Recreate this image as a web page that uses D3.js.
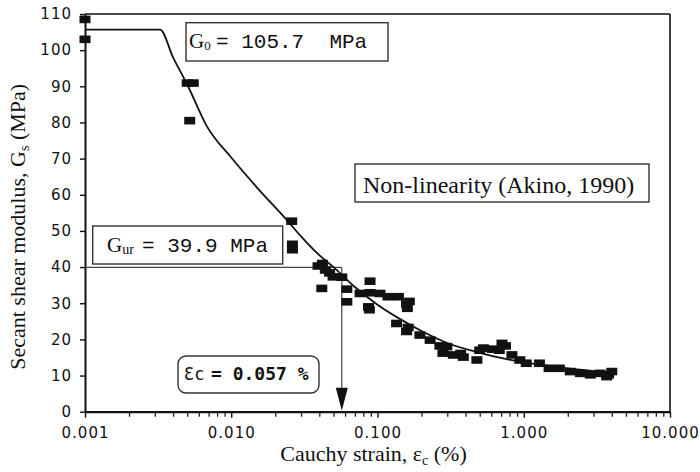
<!DOCTYPE html>
<html>
<head>
<meta charset="utf-8">
<script src="https://cdn.jsdelivr.net/npm/d3@7"></script>
<style>
  html, body { margin: 0; padding: 0; background: #fff; }
  svg { display: block; }
</style>
</head>
<body>
<svg id="chart" width="700" height="472"></svg>
<script>
// Measured secant shear modulus (strain in %, modulus in MPa)
const strain = [0.001, 0.001, 0.0050, 0.0055, 0.0052, 0.0259, 0.0262, 0.0262,
  0.0392, 0.0420, 0.0440, 0.0470, 0.0497, 0.0570, 0.0416, 0.0617, 0.0617,
  0.0889, 0.0760, 0.0890, 0.1040, 0.0868, 0.0880, 0.1180, 0.1390, 0.1580,
  0.1600, 0.1650, 0.1350, 0.1620, 0.1580, 0.1950, 0.2290, 0.2670, 0.2980,
  0.2800, 0.3300, 0.3700, 0.3860, 0.4780, 0.5000, 0.5300, 0.6100, 0.6800,
  0.7100, 0.7500, 0.8300, 0.9400, 1.0400, 1.2800, 1.4900, 1.7500, 2.0800,
  2.4400, 2.8500, 3.3300, 3.6900, 3.8000, 4.0000];
const modulus = [108.5, 103.0, 90.9, 90.9, 80.5, 52.7, 46.3, 44.8,
  40.3, 41.0, 39.2, 38.4, 37.3, 37.2, 34.1, 33.9, 30.4,
  36.1, 32.7, 32.9, 32.7, 29.0, 28.2, 31.8, 31.8, 29.8,
  28.6, 30.5, 24.4, 23.3, 22.2, 21.2, 19.8, 18.2, 18.0,
  16.2, 15.7, 16.1, 15.1, 14.3, 17.0, 17.6, 17.3, 17.0,
  18.9, 18.2, 15.7, 14.3, 13.4, 13.4, 12.0, 12.0, 11.1,
  10.6, 10.2, 10.6, 9.7, 10.2, 11.1];

// Non-linearity model curve (Akino, 1990)
const modelStrain = [0.001, 0.00326, 0.0040, 0.0050, 0.0068, 0.0100, 0.0150,
  0.0240, 0.0300, 0.0400, 0.0500, 0.0700, 0.1000, 0.1430, 0.2000, 0.3000,
  0.5000, 0.7500, 1.2000, 2.0000, 3.5000];
const modelModulus = [105.7, 105.7, 98.0, 90.5, 79.0, 70.3, 62.0,
  53.0, 48.5, 43.3, 40.0, 34.5, 29.6, 25.6, 22.3, 19.0,
  16.3, 14.6, 13.2, 12.0, 11.0];

// Reference values marked on the chart
const G0 = 105.7;
const Gur = 39.9;
const epsC = 0.057;

// Axis ticks
const xTickValues = [0.001, 0.01, 0.1, 1, 10];
const xTickLabels = ["0.001", "0.010", "0.100", "1.000", "10.000"];
const yTickValues = [0, 10, 20, 30, 40, 50, 60, 70, 80, 90, 100, 110];
const yTickLabels = ["0", "10", "20", "30", "40", "50", "60", "70", "80", "90", "100", "110"];

const svg = d3.select("#chart");
const plotLeft = 85, plotRight = 670, plotTop = 14, plotBottom = 411.7;

const x = d3.scaleLog().domain([0.001, 10]).range([plotLeft, plotRight]);
const y = d3.scaleLinear().domain([0, 110]).range([plotBottom, plotTop]);

const tickFont = "'DejaVu Sans', sans-serif";
const serif = "'Liberation Serif', 'Times New Roman', serif";
const mono = "'Liberation Mono', 'Courier New', monospace";

// Minor ticks on the log axis
const minorTicks = [];
for (let d = 0.001; d < 10; d *= 10) {
  for (let k = 2; k <= 9; k++) minorTicks.push(+(d * k).toPrecision(3));
}

// Frame (top and right)
svg.append("line").attr("x1", plotLeft).attr("x2", plotRight).attr("y1", plotTop).attr("y2", plotTop)
  .attr("stroke", "#111").attr("stroke-width", 1.6);
svg.append("line").attr("x1", plotRight).attr("x2", plotRight).attr("y1", plotTop).attr("y2", plotBottom)
  .attr("stroke", "#111").attr("stroke-width", 1.6);

// x axis
const gx = svg.append("g").attr("transform", `translate(0,${plotBottom})`);
gx.append("g").call(d3.axisBottom(x).tickValues(minorTicks).tickFormat("").tickSize(5).tickSizeOuter(0))
  .call(g => g.select(".domain").remove())
  .call(g => g.selectAll("line").attr("stroke", "#111").attr("stroke-width", 1.2));
gx.append("g").call(d3.axisBottom(x).tickValues(xTickValues)
    .tickFormat((d, i) => xTickLabels[i]).tickSize(6).tickSizeOuter(0).tickPadding(10))
  .call(g => g.select(".domain").attr("stroke", "#111").attr("stroke-width", 2.2))
  .call(g => g.selectAll("line").attr("stroke", "#111").attr("stroke-width", 1.4))
  .call(g => g.selectAll("text").attr("font-family", tickFont).attr("font-size", 15)
    .attr("letter-spacing", "1px").attr("fill", "#111"));

// y axis
svg.append("g").attr("transform", `translate(${plotLeft},0)`)
  .call(d3.axisLeft(y).tickValues(yTickValues).tickFormat((d, i) => yTickLabels[i])
    .tickSize(5).tickSizeOuter(0).tickPadding(8))
  .call(g => g.select(".domain").attr("stroke", "#111").attr("stroke-width", 2))
  .call(g => g.selectAll("line").attr("stroke", "#111").attr("stroke-width", 1.4))
  .call(g => g.selectAll("text").attr("font-family", tickFont).attr("font-size", 15)
    .attr("letter-spacing", "1px").attr("fill", "#111"));

// Axis titles
const xt = svg.append("text").attr("x", (plotLeft + plotRight) / 2 - 4).attr("y", 461)
  .attr("text-anchor", "middle").attr("font-family", serif).attr("font-size", 22).attr("fill", "#111");
xt.append("tspan").text("Cauchy strain, ε");
xt.append("tspan").attr("font-size", 14).attr("dy", 4).text("c");
xt.append("tspan").attr("dy", -4).text(" (%)");

const yt = svg.append("text").attr("transform", `translate(25,${(plotTop + plotBottom) / 2 + 14}) rotate(-90)`)
  .attr("text-anchor", "middle").attr("font-family", serif).attr("font-size", 22).attr("fill", "#111");
yt.append("tspan").text("Secant shear modulus, G");
yt.append("tspan").attr("font-size", 14).attr("dy", 4).text("s");
yt.append("tspan").attr("dy", -4).text(" (MPa)");

// Gur reference line and strain arrow
svg.append("line").attr("x1", plotLeft).attr("x2", x(epsC)).attr("y1", y(Gur)).attr("y2", y(Gur))
  .attr("stroke", "#444").attr("stroke-width", 1.2);
svg.append("line").attr("x1", x(epsC)).attr("x2", x(epsC)).attr("y1", y(Gur)).attr("y2", plotBottom - 12)
  .attr("stroke", "#444").attr("stroke-width", 1.2);
svg.append("path")
  .attr("d", `M${x(epsC) - 6},${plotBottom - 24} L${x(epsC) + 6},${plotBottom - 24} L${x(epsC)},${plotBottom - 1} Z`)
  .attr("fill", "#111");

// Data points
const pts = strain.map((s, i) => ({ s, g: modulus[i] }));
svg.append("g").selectAll("rect").data(pts).join("rect")
  .attr("x", d => x(d.s) - 5.5).attr("y", d => y(d.g) - 3.8)
  .attr("width", 11).attr("height", 7.6).attr("fill", "#111");

// Model curve
const model = modelStrain.map((s, i) => ({ s, g: modelModulus[i] }));
svg.append("path").datum(model)
  .attr("d", d3.line().x(d => x(d.s)).y(d => y(d.g)).curve(d3.curveMonotoneX))
  .attr("fill", "none").attr("stroke", "#111").attr("stroke-width", 1.8);

// G0 label box
svg.append("rect").attr("x", 186).attr("y", 22.7).attr("width", 202).attr("height", 38.3)
  .attr("fill", "#fff").attr("stroke", "#333").attr("stroke-width", 1.4);
const g0 = svg.append("text").attr("x", 189).attr("y", 48).attr("font-family", serif)
  .attr("font-size", 21).attr("fill", "#111");
g0.append("tspan").text("G");
g0.append("tspan").attr("font-size", 13).attr("dy", 2).text("0");
svg.append("text").attr("x", 216).attr("y", 48).attr("font-family", mono).attr("font-size", 21)
  .attr("fill", "#111").text("= " + G0.toFixed(1) + "\u00a0 MPa");

// Gur label box
svg.append("rect").attr("x", 92.7).attr("y", 226).attr("width", 190).attr("height", 38)
  .attr("fill", "#fff").attr("stroke", "#333").attr("stroke-width", 1.4);
const gur = svg.append("text").attr("x", 107).attr("y", 252).attr("font-family", serif)
  .attr("font-size", 21).attr("fill", "#111");
gur.append("tspan").text("G");
gur.append("tspan").attr("font-size", 14).attr("dy", 2).text("ur");
svg.append("text").attr("x", 142).attr("y", 252).attr("font-family", mono).attr("font-size", 21)
  .attr("fill", "#111").text("= " + Gur.toFixed(1) + " MPa");

// Non-linearity label box
svg.append("rect").attr("x", 355).attr("y", 164).attr("width", 294).attr("height", 38)
  .attr("fill", "#fff").attr("stroke", "#333").attr("stroke-width", 1.4);
svg.append("text").attr("x", 363).attr("y", 193).attr("font-family", serif).attr("font-size", 24)
  .attr("fill", "#111").text("Non-linearity (Akino, 1990)");

// Strain label box
svg.append("rect").attr("x", 178).attr("y", 356).attr("width", 141).attr("height", 37).attr("rx", 8)
  .attr("fill", "#fff").attr("stroke", "#333").attr("stroke-width", 1.4);
svg.append("text").attr("x", 184).attr("y", 380).attr("font-family", "'DejaVu Sans Mono', monospace")
  .attr("font-size", 17).attr("fill", "#111").text("Ɛc");
svg.append("text").attr("x", 211).attr("y", 380).attr("font-family", "'DejaVu Sans Mono', monospace")
  .attr("font-size", 18).attr("font-weight", "bold").attr("fill", "#111")
  .text("= " + epsC.toFixed(3) + " %");
</script>
</body>
</html>
